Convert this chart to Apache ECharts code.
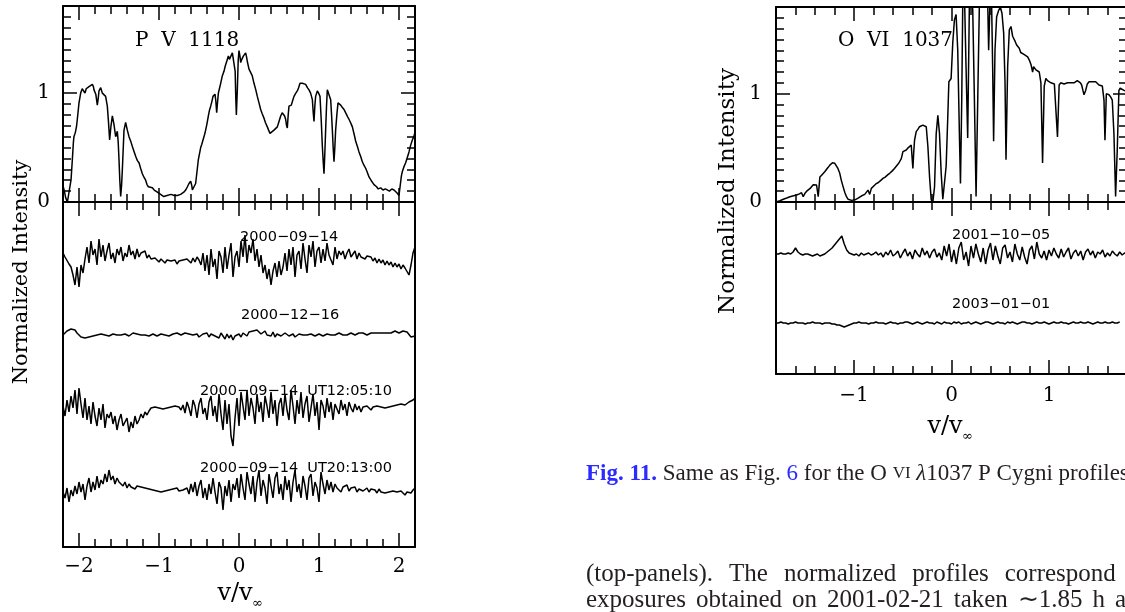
<!DOCTYPE html>
<html><head><meta charset="utf-8">
<script src="https://cdn.jsdelivr.net/npm/echarts@6/dist/echarts.min.js"></script>
<style>html,body{margin:0;padding:0;background:#fff;overflow:hidden}#c{width:1125px;height:612px}</style>
</head><body><div id="c"></div>
<script>
// ---------------- DATA ----------------
// P V 1118 mean profile: [v/vinf, normalized intensity]
const pvProfile = [
[-2.2,0.15],[-2.18,0.09],[-2.167,0.04],[-2.145,0.0],[-2.12,0.0],[-2.1,0.2],[-2.083,0.39],[-2.07,0.55],[-2.063,0.6],[-2.05,0.63],[-2.042,0.65],[-2.03,0.7],[-2.021,0.76],[-2.0,0.91],[-1.979,1.0],[-1.96,1.04],[-1.95,1.03],[-1.935,1.05],[-1.925,1.0],[-1.91,1.04],[-1.896,1.03],[-1.875,1.06],[-1.854,1.05],[-1.833,1.08],[-1.82,1.06],[-1.8125,1.03],[-1.79,0.99],[-1.771,0.89],[-1.76,0.95],[-1.75,1.02],[-1.729,1.05],[-1.708,1.0],[-1.69,0.99],[-1.667,0.97],[-1.646,0.88],[-1.63,0.72],[-1.617,0.57],[-1.6,0.7],[-1.583,0.79],[-1.5625,0.71],[-1.542,0.6],[-1.521,0.65],[-1.51,0.55],[-1.5,0.39],[-1.49,0.2],[-1.479,0.05],[-1.468,0.15],[-1.458,0.3],[-1.4375,0.66],[-1.417,0.73],[-1.396,0.66],[-1.375,0.6],[-1.35,0.55],[-1.333,0.51],[-1.31,0.46],[-1.292,0.42],[-1.27,0.38],[-1.25,0.36],[-1.23,0.31],[-1.208,0.26],[-1.19,0.23],[-1.167,0.2],[-1.15,0.16],[-1.133,0.14],[-1.11,0.13],[-1.083,0.13],[-1.06,0.11],[-1.042,0.1],[-1.02,0.09],[-1.0,0.08],[-0.98,0.07],[-0.958,0.065],[-0.94,0.05],[-0.917,0.04],[-0.9,0.06],[-0.875,0.065],[-0.85,0.07],[-0.833,0.065],[-0.81,0.06],[-0.792,0.055],[-0.77,0.06],[-0.75,0.065],[-0.73,0.07],[-0.708,0.08],[-0.69,0.09],[-0.667,0.11],[-0.645,0.14],[-0.625,0.17],[-0.604,0.19],[-0.59,0.15],[-0.583,0.11],[-0.5625,0.095],[-0.542,0.17],[-0.525,0.28],[-0.508,0.39],[-0.479,0.5],[-0.465,0.53],[-0.45,0.57],[-0.43,0.62],[-0.417,0.66],[-0.4,0.72],[-0.383,0.79],[-0.37,0.84],[-0.354,0.88],[-0.34,0.92],[-0.325,0.97],[-0.31,0.98],[-0.3,0.99],[-0.29,0.93],[-0.279,0.82],[-0.27,0.9],[-0.258,1.0],[-0.245,1.04],[-0.229,1.09],[-0.208,1.16],[-0.1875,1.2],[-0.175,1.24],[-0.167,1.26],[-0.15,1.3],[-0.133,1.34],[-0.12,1.31],[-0.104,1.32],[-0.083,1.37],[-0.0625,1.355],[-0.048,1.2],[-0.04,0.95],[-0.033,0.8],[-0.02,1.05],[-0.01,1.3],[0.0,1.39],[0.012,1.34],[0.021,1.28],[0.035,1.31],[0.054,1.34],[0.07,1.35],[0.083,1.37],[0.095,1.33],[0.104,1.29],[0.125,1.22],[0.146,1.23],[0.165,1.16],[0.1875,1.09],[0.21,1.03],[0.229,0.97],[0.25,0.91],[0.271,0.85],[0.29,0.81],[0.3125,0.77],[0.33,0.73],[0.354,0.69],[0.37,0.66],[0.3875,0.63],[0.41,0.64],[0.4375,0.66],[0.46,0.67],[0.479,0.69],[0.5,0.74],[0.521,0.79],[0.54,0.82],[0.554,0.83],[0.57,0.79],[0.583,0.76],[0.595,0.7],[0.604,0.68],[0.615,0.8],[0.625,0.88],[0.654,0.89],[0.67,0.93],[0.6875,0.97],[0.71,1.0],[0.729,1.02],[0.745,1.05],[0.7625,1.09],[0.78,1.1],[0.792,1.09],[0.81,1.1],[0.833,1.08],[0.855,1.05],[0.875,1.03],[0.895,1.0],[0.917,0.94],[0.928,0.82],[0.9375,0.74],[0.948,0.88],[0.958,0.97],[0.979,1.02],[0.995,1.0],[1.0125,0.97],[1.028,0.75],[1.042,0.51],[1.052,0.38],[1.0625,0.26],[1.073,0.45],[1.083,0.66],[1.094,0.88],[1.104,1.03],[1.125,1.02],[1.146,0.94],[1.157,0.8],[1.167,0.66],[1.177,0.5],[1.1875,0.37],[1.198,0.5],[1.208,0.66],[1.223,0.8],[1.2375,0.91],[1.255,0.9],[1.271,0.89],[1.29,0.87],[1.3125,0.85],[1.34,0.81],[1.36,0.78],[1.375,0.76],[1.4,0.72],[1.417,0.69],[1.44,0.62],[1.458,0.56],[1.48,0.51],[1.5,0.46],[1.52,0.42],[1.542,0.37],[1.56,0.34],[1.583,0.31],[1.6,0.28],[1.625,0.23],[1.65,0.2],[1.6875,0.16],[1.72,0.14],[1.74,0.12],[1.771,0.13],[1.8,0.11],[1.83,0.12],[1.854,0.11],[1.88,0.1],[1.91,0.12],[1.9375,0.11],[1.96,0.1],[1.979,0.08],[1.99,0.07],[2.0,0.06],[2.015,0.15],[2.03,0.24],[2.042,0.28],[2.06,0.32],[2.083,0.36],[2.1,0.4],[2.125,0.46],[2.145,0.52],[2.167,0.57],[2.185,0.6],[2.2,0.64]
];
// O VI 1037 mean profile: [v/vinf, normalized intensity]
const oviProfile = [
[-1.8,0.0],[-1.76,0.012],[-1.725,0.025],[-1.69,0.037],[-1.657,0.049],[-1.62,0.058],[-1.589,0.065],[-1.56,0.075],[-1.538,0.086],[-1.521,0.049],[-1.503,0.08],[-1.485,0.1],[-1.469,0.11],[-1.45,0.125],[-1.435,0.14],[-1.418,0.16],[-1.401,0.17],[-1.384,0.157],[-1.367,0.05],[-1.35,0.23],[-1.33,0.25],[-1.316,0.265],[-1.3,0.28],[-1.282,0.295],[-1.265,0.32],[-1.248,0.34],[-1.235,0.355],[-1.221,0.363],[-1.21,0.362],[-1.197,0.357],[-1.18,0.342],[-1.165,0.31],[-1.146,0.265],[-1.13,0.2],[-1.112,0.142],[-1.095,0.09],[-1.077,0.049],[-1.06,0.025],[-1.043,0.012],[-1.025,0.015],[-1.009,0.018],[-0.99,0.02],[-0.975,0.025],[-0.958,0.035],[-0.941,0.049],[-0.925,0.055],[-0.907,0.065],[-0.89,0.07],[-0.873,0.08],[-0.856,0.11],[-0.839,0.07],[-0.822,0.126],[-0.8,0.145],[-0.771,0.17],[-0.75,0.18],[-0.725,0.2],[-0.703,0.218],[-0.68,0.23],[-0.655,0.25],[-0.634,0.265],[-0.61,0.285],[-0.585,0.31],[-0.566,0.326],[-0.54,0.36],[-0.515,0.4],[-0.498,0.465],[-0.48,0.47],[-0.464,0.48],[-0.445,0.5],[-0.43,0.51],[-0.413,0.526],[-0.405,0.42],[-0.396,0.31],[-0.388,0.45],[-0.379,0.57],[-0.362,0.65],[-0.345,0.67],[-0.328,0.695],[-0.31,0.7],[-0.294,0.71],[-0.276,0.72],[-0.259,0.695],[-0.242,0.51],[-0.225,0.23],[-0.208,0.02],[-0.191,0.0],[-0.174,0.14],[-0.157,0.63],[-0.14,0.8],[-0.123,0.63],[-0.106,0.27],[-0.089,0.025],[-0.072,0.018],[-0.055,0.33],[-0.038,0.79],[-0.027,1.11],[-0.004,1.14],[0.013,1.47],[0.03,1.68],[0.047,1.73],[0.064,1.4],[0.081,0.63],[0.092,0.17],[0.105,0.94],[0.115,1.8],[0.132,1.95],[0.149,1.25],[0.166,0.59],[0.183,1.8],[0.2,1.95],[0.218,1.77],[0.235,0.94],[0.252,0.05],[0.269,0.94],[0.286,1.83],[0.32,1.95],[0.371,1.86],[0.381,1.4],[0.395,1.86],[0.412,1.8],[0.422,1.25],[0.432,0.56],[0.446,1.4],[0.463,1.71],[0.484,1.77],[0.501,1.8],[0.518,1.74],[0.535,1.56],[0.549,1.1],[0.559,0.39],[0.576,1.25],[0.593,1.59],[0.61,1.62],[0.627,1.53],[0.654,1.48],[0.668,1.45],[0.695,1.42],[0.71,1.38],[0.723,1.37],[0.747,1.36],[0.765,1.35],[0.781,1.34],[0.798,1.31],[0.815,1.27],[0.832,1.2],[0.842,1.25],[0.866,1.22],[0.885,1.21],[0.9,1.2],[0.917,1.1],[0.934,0.36],[0.951,1.07],[0.968,1.14],[0.985,1.12],[1.002,1.13],[1.02,1.1],[1.036,1.11],[1.055,1.09],[1.07,1.1],[1.087,0.6],[1.104,1.08],[1.12,1.1],[1.138,1.11],[1.155,1.09],[1.172,1.1],[1.19,1.1],[1.206,1.11],[1.222,1.1],[1.24,1.11],[1.257,1.1],[1.274,1.1],[1.29,1.12],[1.308,1.13],[1.322,1.1],[1.335,1.08],[1.348,1.03],[1.359,0.99],[1.376,1.03],[1.393,1.09],[1.411,1.11],[1.428,1.1],[1.445,1.11],[1.462,1.12],[1.479,1.11],[1.496,1.1],[1.513,1.08],[1.53,1.07],[1.547,1.07],[1.564,0.94],[1.574,0.57],[1.588,1.0],[1.6,0.99],[1.615,0.99],[1.632,0.97],[1.649,0.94],[1.666,0.63],[1.683,0.05],[1.7,0.48],[1.717,1.03],[1.73,1.05],[1.745,1.05],[1.769,1.03],[1.8,1.02]
];

// Residual (normalized) profiles, sampled every velStep in v/vinf, in units of 0.01
const velStep = 0.025;
const pvStart = -2.2;
const oviStart = -1.8;
const pvDates = ['2000\u221209\u221214', '2000\u221212\u221216', '2000\u221209\u221214  UT12:05:10', '2000\u221209\u221214  UT20:13:00'];
const pv20000914 = [8,4,2,-3,-6,-14,-24,-6,-26,-4,-12,2,14,-2,20,6,12,-4,22,4,16,0,10,18,2,8,-2,12,6,14,0,8,4,16,6,10,2,12,4,8,6,10,3,6,2,0,3,1,-1,2,0,-2,1,-1,0,-2,1,-3,0,-2,1,-1,2,0,-2,3,-1,4,1,-4,8,-10,6,-14,12,-6,2,-18,10,4,-12,14,-8,6,18,-16,4,10,-6,20,4,26,-2,16,8,22,0,12,-6,6,-12,-4,-18,-8,-24,-10,-2,-16,0,-14,-6,8,-10,12,-4,14,-16,6,10,-8,18,2,-12,16,4,20,-6,10,14,-2,12,0,18,6,8,-4,14,2,10,6,10,2,8,12,4,6,10,2,8,4,6,2,5,3,4,0,3,-2,2,-2,1,-4,0,-4,-1,-6,-2,-6,-3,-8,-4,-7,-9,-14,-4,8,14];
const pv20001216 = [0,2,4,3,6,4,5,2,1,-2,-4,-3,-5,-2,-3,-1,-2,0,-1,1,-1,0,-2,-1,0,1,-1,0,2,0,-1,1,0,-1,1,2,0,1,-1,0,1,0,1,-1,0,1,0,-1,0,1,2,0,1,-1,0,1,0,2,1,0,1,2,0,1,-1,0,2,1,-2,0,1,-1,2,-2,1,3,-1,0,-3,2,-1,-4,1,-3,0,-5,-1,-3,1,-2,2,0,-1,3,1,4,2,5,3,1,2,4,0,2,-1,3,-2,1,2,-1,0,2,1,-1,0,1,-2,0,1,-1,0,-2,0,-1,1,0,-1,0,1,0,-1,0,1,2,0,1,0,1,2,1,0,1,0,1,2,1,0,1,2,1,2,1,0,1,2,1,2,1,2,3,2,1,2,3,2,3,4,3,2,3,4,5,3,1,-2,-3,-1];
const pv20000914a = [4,-6,10,-2,14,2,20,-4,22,6,-8,12,-10,4,-14,8,-6,-16,2,-10,6,-18,-4,-8,-2,-14,-6,-20,-10,-4,-16,-12,-8,-22,-12,-18,-6,-14,-10,-4,-8,-2,-5,-1,2,0,3,1,2,4,1,3,2,0,3,1,4,2,3,0,5,-3,8,2,-6,10,4,-8,6,12,-4,2,-10,8,14,-6,4,-12,16,-4,-20,10,-14,6,-26,-36,-8,12,-16,18,4,-10,20,-6,12,2,-14,16,-2,8,-12,14,4,-8,18,-4,10,-16,6,12,-6,16,0,-10,20,4,-14,10,-4,18,-8,6,14,-12,2,16,-6,8,-20,10,4,-8,12,-2,8,-10,6,4,-4,10,0,6,-6,8,2,-2,6,0,4,-2,3,1,4,2,0,3,1,4,2,3,5,2,4,3,5,4,2,5,3,6,4,5,3,8,6,10,12];
const pv20000914b = [-2,-8,2,-12,0,-6,4,-4,8,-2,6,-10,4,12,-2,8,0,14,2,10,6,16,8,20,10,14,6,12,8,10,4,8,2,6,3,5,1,4,2,3,1,2,0,1,-1,0,1,-1,0,-2,0,-1,1,0,-1,1,0,2,-1,1,0,-1,2,-4,6,-2,8,-6,4,10,-8,2,-10,6,-4,12,-2,-14,8,2,-20,4,-6,10,-12,6,0,12,-8,16,2,-10,18,6,-4,14,-12,8,20,-6,10,2,-14,16,4,-8,12,18,-4,6,-10,14,0,10,-12,8,20,-2,6,-8,14,4,-10,12,16,-6,8,2,-12,18,6,-4,10,0,8,-2,6,2,4,-2,3,1,5,-1,2,0,3,-2,1,2,-1,0,2,-2,1,-1,0,-3,1,-2,0,-3,-1,-2,-4,-1,-3,-2,-4,-1,-3,-5,-2,-4,-3,0,2];
const pvResiduals = [pv20000914, pv20001216, pv20000914a, pv20000914b];

const oviDates = ['2001\u221210\u221205', '2003\u221201\u221201'];
const ovi20011005 = [0,0,1,0,0,1,0,2,6,2,0,-1,0,0,-1,-2,-1,0,-2,-1,0,2,4,6,9,12,15,18,10,4,1,0,-1,0,-2,1,-1,0,1,-1,0,2,-1,1,-3,2,-1,4,-2,0,3,-4,1,5,-2,2,-5,4,0,-3,6,-1,3,-4,2,5,-3,1,-6,8,-2,10,-8,4,-10,6,12,-6,2,-12,8,-4,10,0,-8,6,-10,4,11,-6,8,-2,-10,6,9,-4,2,-8,10,0,-6,7,-3,-10,4,8,-5,12,0,-4,3,-6,4,-2,6,0,-4,5,-3,2,6,-5,1,4,-2,3,-6,2,5,-1,3,-4,2,0,4,-3,1,-2,3,0,-2,2,-1,1,0];
const ovi20030101 = [0,0,1,0,0,-1,0,0,1,0,0,0,-1,0,0,1,0,0,0,-1,0,0,0,-1,-1,-2,-2,-3,-4,-3,-2,-1,0,0,1,0,0,0,-1,0,0,1,0,0,0,-1,0,1,0,0,-1,0,0,1,1,0,-1,0,1,0,-1,0,1,0,0,-1,1,0,-1,1,0,0,-1,1,0,1,-1,0,0,1,-1,0,1,0,-1,0,1,1,0,-1,0,1,0,0,-1,1,0,1,0,-1,0,1,1,0,0,-1,0,1,0,0,1,0,-1,0,1,0,0,1,0,0,-1,0,1,0,0,1,0,0,1,0,-1,0,1,0,0,1,0,0,1,0,0,1];
const oviResiduals = [ovi20011005, ovi20030101];

// tick labels
const pvVelTicks = [-2, -1, 0, 1, 2];
const oviVelTicks = [-1, 0, 1];
const intensityTicks = [0, 1];
const pvTitle = 'P  V  1118';
const oviTitle = 'O  VI  1037';
// caption / body text (page text around the figure)
const captionText = '{b|Fig. 11.} Same as Fig. {l|6} for the O {sc|VI} {i|\u03bb}1037 P Cygni profiles.';
const bodyLine1 = ['(top-panels).', 'The', 'normalized', 'profiles', 'correspond', 'to', 'the'];
const bodyLine2 = ['exposures', 'obtained', 'on', '2001-02-21', 'taken', '\u223c1.85', 'h', 'apart'];

// ---------------- CHART ----------------
const BLACK = '#000';
const SERIF = '"DejaVu Serif"';
function fmtTick(list) {
  return function (v) {
    const r = Math.round(v);
    if (Math.abs(v - r) > 1e-6 || list.indexOf(r) < 0) return '';
    return r < 0 ? '\u2212' + Math.abs(r) : String(r);
  };
}
function tickAxis(gridIndex, position, min, max, minorSplit, labelList, margin) {
  return {
    type: 'value', gridIndex, position, min, max, minInterval: 1, maxInterval: 1,
    axisLine: {show: true, onZero: false, lineStyle: {color: BLACK, width: 2}},
    axisTick: {show: true, inside: true, length: 14, lineStyle: {color: BLACK, width: 1.5}},
    minorTick: {show: true, splitNumber: minorSplit, length: 8, lineStyle: {color: BLACK, width: 1.5}},
    splitLine: {show: false}, minorSplitLine: {show: false},
    axisLabel: labelList ? {show: true, margin: margin, color: BLACK, fontFamily: 'DejaVu Serif', fontSize: 20, formatter: fmtTick(labelList)} : {show: false}
  };
}
function plainAxis(gridIndex, position, min, max) {
  return {
    type: 'value', gridIndex, position, min, max,
    axisLine: {show: true, onZero: false, lineStyle: {color: BLACK, width: 2}},
    axisTick: {show: false}, axisLabel: {show: false}, splitLine: {show: false}
  };
}

const grids = [
  {left: 63, top: 6, width: 352, height: 196, outerBoundsMode: 'none', containLabel: false},
  {left: 63, top: 202, width: 352, height: 345, outerBoundsMode: 'none', containLabel: false},
  {left: 776, top: 7, width: 351, height: 195, outerBoundsMode: 'none', containLabel: false},
  {left: 776, top: 202, width: 351, height: 172, outerBoundsMode: 'none', containLabel: false}
];
const xAxes = [
  tickAxis(0, 'bottom', -2.2, 2.2, 5, null),
  tickAxis(0, 'top', -2.2, 2.2, 5, null),
  tickAxis(1, 'top', -2.2, 2.2, 5, null),
  tickAxis(1, 'bottom', -2.2, 2.2, 5, pvVelTicks, 10),
  tickAxis(2, 'bottom', -1.8, 1.8, 5, null),
  tickAxis(2, 'top', -1.8, 1.8, 5, null),
  tickAxis(3, 'top', -1.8, 1.8, 5, null),
  tickAxis(3, 'bottom', -1.8, 1.8, 5, oviVelTicks, 12)
];
const yAxes = [
  tickAxis(0, 'left', 0, 1.8, 10, intensityTicks, 13),
  tickAxis(0, 'right', 0, 1.8, 10, null),
  plainAxis(1, 'left', 0, 345),
  plainAxis(1, 'right', 0, 345),
  tickAxis(2, 'left', 0, 1.8, 10, intensityTicks, 14),
  tickAxis(2, 'right', 0, 1.8, 10, null),
  plainAxis(3, 'left', 0, 172),
  plainAxis(3, 'right', 0, 172)
];
const lineStyle = {color: BLACK, width: 1.5};
function lineSeries(xi, yi, data) {
  return {type: 'line', xAxisIndex: xi, yAxisIndex: yi, data, showSymbol: false, symbol: 'none',
    lineStyle, silent: true, clip: true, animation: false};
}
const pvOffsets = [286, 212, 137, 57];
const oviOffsets = [120, 51];
function residualData(values, start, offset) {
  return values.map((d, i) => [+(start + i * velStep).toFixed(4), offset + d]);
}
const series = [lineSeries(0, 0, pvProfile), lineSeries(4, 4, oviProfile)];
pvResiduals.forEach((r, k) => series.push(lineSeries(3, 2, residualData(r, pvStart, pvOffsets[k]))));
oviResiduals.forEach((r, k) => series.push(lineSeries(7, 6, residualData(r, oviStart, oviOffsets[k]))));

function txt(x, y, text, font, extra) {
  return Object.assign({type: 'text', x, y, silent: true, style: Object.assign({
    text, font, fill: BLACK, textAlign: 'left', textVerticalAlign: 'middle', align: 'left', verticalAlign: 'middle'
  }, extra && extra.style || {})}, extra && extra.el || {});
}
const dateFont = '14.5px "DejaVu Sans"';
const pvLabelPos = [[240, 237], [241, 315], [200, 391], [200, 468]];
const oviLabelPos = [[952, 235], [952, 304]];
const center = {style: {textAlign: 'center', align: 'center'}};
const graphics = [
  txt(135, 41, pvTitle, '20px ' + SERIF),
  txt(838, 41, oviTitle, '20px ' + SERIF),
  txt(22, 272, 'Normalized Intensity', '21px ' + SERIF, {el: {rotation: Math.PI / 2}, style: {textAlign: 'center', align: 'center'}}),
  txt(728, 191, 'Normalized Intensity', '23px ' + SERIF, {el: {rotation: Math.PI / 2}, style: {textAlign: 'center', align: 'center'}}),
  txt(235, 594, 'v/v', '24px ' + SERIF, center),
  txt(252, 604, '\u221e', '13px ' + SERIF),
  txt(945, 427, 'v/v', '24px ' + SERIF, center),
  txt(962, 437, '\u221e', '13px ' + SERIF)
];
pvDates.forEach((d, k) => graphics.push(txt(pvLabelPos[k][0], pvLabelPos[k][1], d, dateFont)));
oviDates.forEach((d, k) => graphics.push(txt(oviLabelPos[k][0], oviLabelPos[k][1], d, dateFont)));

const CAP = '"Liberation Serif"';
const BLUE = '#2b2bff';
const INK = '#231f20';
graphics.push(txt(586, 474, captionText, '23px ' + CAP, {style: {
  fill: INK,
  rich: {
    b: {font: 'bold 23px ' + CAP, fill: BLUE, color: BLUE},
    l: {font: '23px ' + CAP, fill: BLUE, color: BLUE},
    sc: {font: '17px ' + CAP, fill: INK, color: INK},
    i: {font: 'italic 23px ' + CAP, fill: INK, color: INK}
  }
}}));
function justified(words) {
  return words.join('{w| }');
}
graphics.push(txt(586, 574, justified(bodyLine1), '25px ' + CAP, {style: {fill: INK, rich: {w: {width: 16, font: '25px ' + CAP}}}}));
graphics.push(txt(586, 600, justified(bodyLine2), '25px ' + CAP, {style: {fill: INK, rich: {w: {width: 10, font: '25px ' + CAP}}}}));

const chart = echarts.init(document.getElementById('c'), null, {renderer: 'canvas'});
chart.setOption({
  animation: false,
  backgroundColor: '#fff',
  grid: grids,
  xAxis: xAxes,
  yAxis: yAxes,
  series,
  graphic: {elements: graphics}
});
</script></body></html>
